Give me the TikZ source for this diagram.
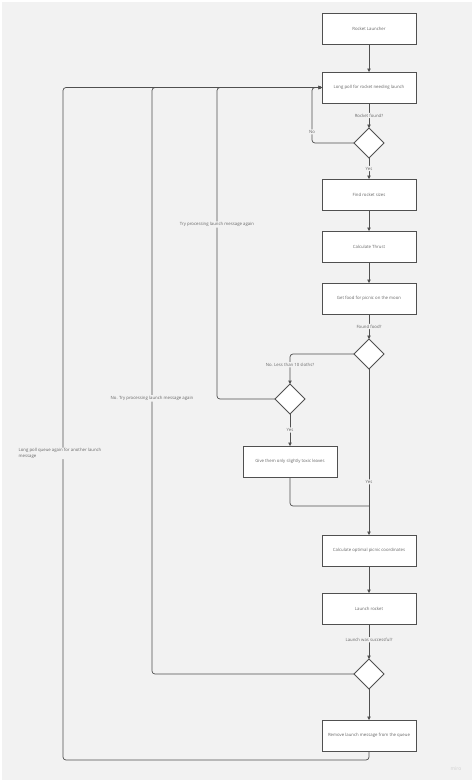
\documentclass[tikz,border=0pt]{standalone}
\usepackage{fontspec}
\setmainfont{Open Sans}
\usetikzlibrary{arrows.meta,positioning,shapes.geometric}
\definecolor{canvasgrey}{HTML}{F2F2F2}
\definecolor{edgegrey}{HTML}{505050}
\definecolor{textgrey}{HTML}{666666}

\begin{document}
\begin{tikzpicture}[x=1pt, y=-1pt,
  font=\fontsize{4.3}{5.3}\selectfont,
  task/.style={draw=edgegrey, fill=white, line width=0.9pt, text=textgrey,
    minimum width=94pt, minimum height=31pt, inner sep=1pt, outer sep=0pt},
  decision/.style={diamond, draw=edgegrey, fill=white, line width=0.9pt,
    minimum width=30pt, minimum height=30pt, inner sep=0pt, outer sep=0pt},
  arrow/.style={-{Triangle[length=3.5pt,width=3.5pt]}, line width=0.7pt,
    draw=edgegrey, rounded corners=3pt},
  wire/.style={line width=0.7pt, draw=edgegrey, rounded corners=3pt},
  tag/.style={fill=canvasgrey, text=textgrey, inner sep=1pt}
]
\useasboundingbox (0,0) rectangle (474,782);
\fill[canvasgrey] (2,2) rectangle (472,780);

\node[task] (launcher) at (369,28.5) {Rocket Launcher};
\node[task, below=28pt of launcher] (poll) {Long poll for rocket needing launch};
\node[decision, below=25pt of poll] (found1) {};
\node[task, below=21pt of found1] (sizes) {Find rocket sizes};
\node[task, below=21pt of sizes] (thrust) {Calculate Thrust};
\node[task, below=21pt of thrust] (food) {Get food for picnic on the moon};
\node[decision, below=25pt of food] (found2) {};
\node[decision] (sloths) at (290,399) {};
\node[task, below=32pt of sloths] (give) {Give them only slightly toxic leaves};
\node[task, below=166pt of found2] (calc) {Calculate optimal picnic coordinates};
\node[task, below=27pt of calc] (launch) {Launch rocket};
\node[decision, below=35pt of launch] (success) {};
\node[task, below=31pt of success] (remove) {Remove launch message from the queue};

\draw[arrow] (launcher) -- (poll);
\draw[arrow] (poll) -- node[tag] {Rocket found?} (found1);
\draw[arrow] (found1.west) -- ++(-42,0) |- node[tag, pos=0.1] {No} (poll.west);
\draw[arrow] (found1) -- node[tag] {Yes} (sizes);
\draw[arrow] (sizes) -- (thrust);
\draw[arrow] (thrust) -- (food);
\draw[arrow] (food) -- node[tag] {Found food?} (found2);
\draw[arrow] (found2.west) -| node[tag, pos=0.68] {No. Less than 10 sloths?} (sloths.north);
\draw[arrow] (sloths.west) -- ++(-58,0) |- node[tag, pos=0.28] {Try processing launch message again} (poll.west);
\draw[arrow] (sloths) -- node[tag] {Yes} (give);
\draw[wire] (give.south) |- ([yshift=29pt]calc.north);
\draw[arrow] (found2) -- node[tag, pos=0.68] {Yes} (calc);
\draw[arrow] (calc) -- (launch);
\draw[arrow] (launch) -- node[tag, pos=0.45] {Launch was successful?} (success);
\draw[arrow] (success.west) -- ++(-202,0) |- node[tag, pos=0.235] {No. Try processing launch message again} (poll.west);
\draw[arrow] (success) -- (remove);
\draw[arrow] (remove.south) -- ++(0,9) -- ++(-306,0) |- node[tag, pos=0.228, align=left, xshift=-3pt] {Long poll queue again for another launch\\message} (poll.west);

\node[text=black!18, font=\fontsize{5}{6}\selectfont] (brand) at (456,769) {miro};
\end{tikzpicture}
\end{document}
